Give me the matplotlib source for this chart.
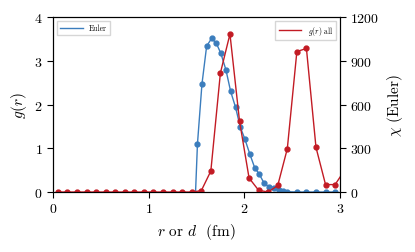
import matplotlib
matplotlib.use('Agg')
import matplotlib.pyplot as plt
from matplotlib.lines import Line2D

plt.rcParams['font.family'] = 'serif'
plt.rcParams['font.serif'] = ['cmr10', 'DejaVu Serif']
plt.rcParams['mathtext.fontset'] = 'cm'
plt.rcParams['axes.unicode_minus'] = False
plt.rcParams['axes.formatter.use_mathtext'] = True

# g(r) all (left axis)
r_g = [0.05, 0.15, 0.25, 0.35, 0.45, 0.55, 0.65, 0.75, 0.85, 0.95,
       1.05, 1.15, 1.25, 1.35, 1.45, 1.55, 1.65, 1.75, 1.85, 1.95,
       2.05, 2.15, 2.25, 2.35, 2.45, 2.55, 2.65, 2.75, 2.85, 2.95, 3.05]
g_all = [0, 0, 0, 0, 0, 0, 0, 0, 0, 0,
         0, 0, 0, 0, 0, 0.03, 0.48, 2.72, 3.61, 1.62,
         0.32, 0.04, 0.0, 0.15, 0.99, 3.21, 3.28, 1.02, 0.17, 0.17, 0.5]

# Euler characteristic (right axis)
d_euler = [1.49, 1.51, 1.557, 1.606, 1.658, 1.707, 1.755, 1.808, 1.857, 1.909,
           1.957, 2.006, 2.058, 2.108, 2.156, 2.208, 2.257, 2.306, 2.36, 2.41,
           2.45, 2.55, 2.65, 2.75, 2.85, 2.95]
chi_euler = [0, 330, 740, 1000, 1053, 1020, 950, 837, 690, 580,
             447, 363, 260, 168, 123, 60, 36, 30, 12, 5,
             2, 0, 0, 0, 0, 0]

c_blue = '#3b7dbd'
c_red = '#c21b24'

fig = plt.figure(figsize=(4.15, 2.53), dpi=100)
ax = fig.add_axes([0.128, 0.237, 0.691, 0.692])
ax2 = ax.twinx()

ax2.plot(d_euler, chi_euler, color=c_blue, marker='o', markersize=3.5,
         linewidth=1, markevery=slice(1, None))
ax.plot(r_g, g_all, color=c_red, marker='o', markersize=3.5, linewidth=1)

# red drawn above blue
ax.set_zorder(ax2.get_zorder() + 1)
ax.patch.set_visible(False)

ax.set_xlim(0, 3)
ax.set_ylim(0, 4)
ax2.set_ylim(0, 1200)
ax.set_xticks([0, 1, 2, 3])
ax.set_yticks([0, 1, 2, 3, 4])
ax2.set_yticks([0, 300, 600, 900, 1200])

ax.set_xlabel(r'$r$ or $d$  (fm)', fontsize=11)
ax.set_ylabel(r'$g(r)$', fontsize=11)
ax2.set_ylabel(r'$\chi$ (Euler)', fontsize=11)

for a in (ax, ax2):
    a.tick_params(labelsize=10, direction='out', length=4, width=0.8)

# legends: line only, no marker
leg_kw = dict(fontsize=5.5, frameon=True, fancybox=False,
              edgecolor='#cccccc', handlelength=3)
leg_red = ax.legend([Line2D([], [], color=c_red, linewidth=1)], [r'$g(r)$ all'],
                    loc='upper right', **leg_kw)
ax.add_artist(leg_red)
ax.legend([Line2D([], [], color=c_blue, linewidth=1)], ['Euler'],
          loc='upper left', **leg_kw)

plt.savefig('out.png', dpi=100)
